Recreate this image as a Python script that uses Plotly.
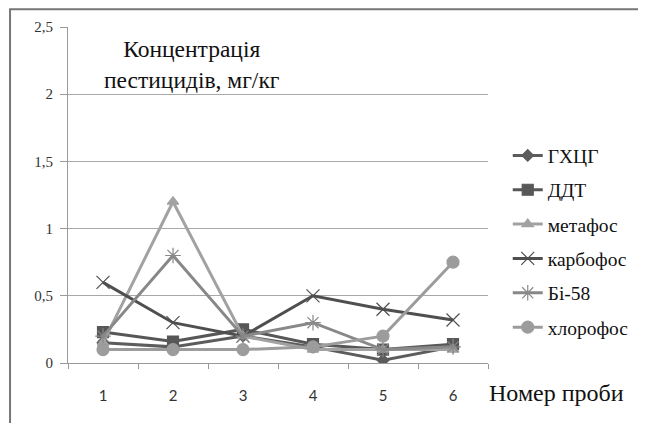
import plotly.graph_objects as go

samples = ["1", "2", "3", "4", "5", "6"]
series_names = ["ГХЦГ", "ДДТ", "метафос", "карбофос", "Бі-58", "хлорофос"]
hchg = [0.15, 0.12, 0.20, 0.12, 0.02, 0.12]
ddt = [0.23, 0.16, 0.25, 0.14, 0.10, 0.14]
metafos = [0.15, 1.20, 0.20, 0.10, 0.10, 0.10]
karbofos = [0.60, 0.30, 0.20, 0.50, 0.40, 0.32]
bi58 = [0.20, 0.80, 0.20, 0.30, 0.10, 0.12]
chlorofos = [0.10, 0.10, 0.10, 0.12, 0.20, 0.75]
y_tickvals = [0, 0.5, 1, 1.5, 2, 2.5]
y_ticktext = ["0", "0,5", "1", "1,5", "2", "2,5"]

values = [hchg, ddt, metafos, karbofos, bi58, chlorofos]
colors = ["#5c5c5c", "#575757", "#a2a2a2", "#4f4f4f", "#888888", "#9c9c9c"]
symbols = ["diamond", "square", "triangle-up", "x-thin-open", "asterisk-open", "circle"]
sizes = [9, 11, 10, 13, 13, 12]

fig = go.Figure()
for i, (name, vals) in enumerate(zip(series_names, values)):
    open_sym = symbols[i].endswith("open")
    fig.add_trace(go.Scatter(
        x=samples, y=vals, name=name, mode="lines+markers",
        legendgroup=name,
        line=dict(color=colors[i], width=3),
        marker=dict(symbol=symbols[i], size=sizes[i], color=colors[i],
                    line=dict(color="#a8a8a8" if open_sym else colors[i], width=1.2)),
    ))

font_family = '"Liberation Serif", "Times New Roman", Times, serif'
sans_family = 'Lato, "Liberation Sans", sans-serif'
fig.update_layout(
    width=646, height=423,
    margin=dict(l=60, r=166, t=19, b=68),
    paper_bgcolor="white", plot_bgcolor="white",
    font=dict(family=font_family, color="#222"),
    showlegend=True,
    legend=dict(x=1.047, y=0.675, xanchor="left", yanchor="top",
                font=dict(size=19.5, family=font_family, color="#111"),
                tracegroupgap=6, bgcolor="rgba(0,0,0,0)"),
    xaxis=dict(type="category", tickson="boundaries", ticks="outside",
               ticklen=5, tickcolor="#999", showline=True, linecolor="#999",
               linewidth=1, showgrid=False, tickfont=dict(size=15, color="#333", family=sans_family),
               ticklabelstandoff=19, range=[-0.5, 5.5]),
    yaxis=dict(range=[0, 2.5], tickvals=y_tickvals, ticktext=y_ticktext,
               showgrid=True, gridcolor="#a8a8a8", gridwidth=1,
               showline=True, linecolor="#999", ticks="outside", ticklen=7,
               tickcolor="#999", zeroline=False, ticklabelstandoff=4,
               tickfont=dict(size=15, color="#333", family=font_family)),
)

fig.add_annotation(x=0.295, y=0.978, xref="paper", yref="paper",
                   text="Концентрація<br>пестицидів, мг/кг", showarrow=False,
                   font=dict(size=23.5, family=font_family, color="#111"),
                   align="center", xanchor="center", yanchor="top")
fig.add_annotation(x=0.998, y=-0.09, xref="paper", yref="paper",
                   text="Номер проби", showarrow=False,
                   font=dict(size=24, family=font_family, color="#111"),
                   xanchor="left", yanchor="middle")

fig.add_shape(type="rect", xref="paper", yref="paper",
              x0=-0.138, x1=1.367, y0=-0.25, y1=1.053,
              line=dict(color="#777", width=2), fillcolor="rgba(0,0,0,0)", layer="below")

fig.write_html("out.html")
